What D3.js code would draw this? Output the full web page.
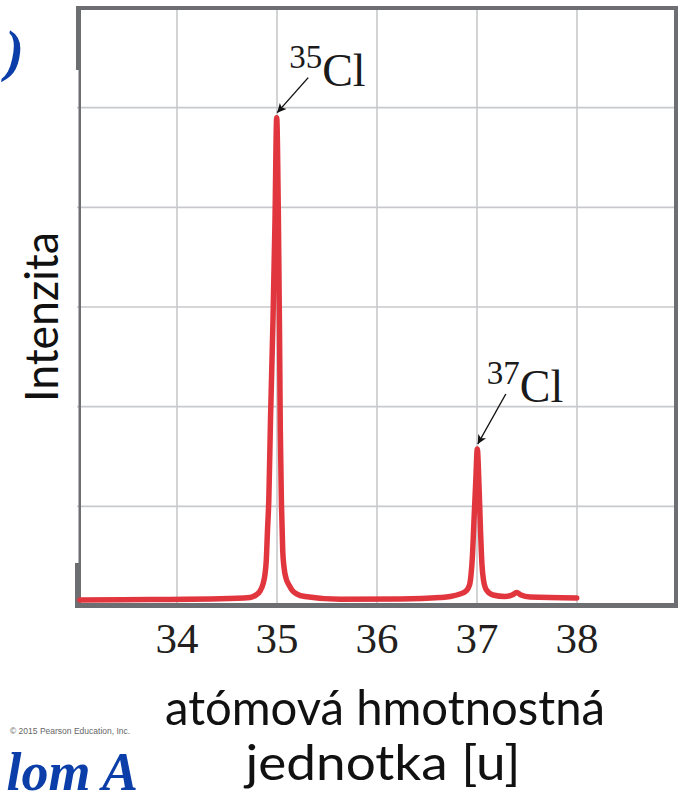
<!DOCTYPE html>
<html>
<head>
<meta charset="utf-8">
<script src="https://cdn.jsdelivr.net/npm/d3@7"></script>
<style>
  body { margin: 0; background: #fff; }
  svg { display: block; }
</style>
</head>
<body>
<svg width="683" height="794"></svg>
<script>
// spectrum of chlorine
const massValues = [33.03, 33.73, 34.43, 34.73, 34.79, 34.83, 34.86, 34.88, 34.893, 34.905, 34.918,
  34.935, 34.96, 34.98, 34.997, 35.013, 35.025, 35.033, 35.045, 35.057, 35.07, 35.09, 35.12, 35.15,
  35.20, 35.28, 35.63, 36.23, 36.63, 36.73, 36.83, 36.89, 36.925, 36.94, 36.955, 36.97, 36.988,
  37.003, 37.02, 37.035, 37.05, 37.065, 37.095, 37.16, 37.28, 37.35, 37.397, 37.44, 37.53, 37.997];
const intensityValues = [0.06, 0.065, 0.072, 0.085, 0.11, 0.15, 0.22, 0.32, 0.46, 0.76, 1.06,
  1.87, 2.87, 3.87, 4.90, 3.97, 2.77, 1.77, 1.01, 0.56, 0.39, 0.28, 0.21, 0.16,
  0.12, 0.095, 0.067, 0.07, 0.085, 0.095, 0.12, 0.15, 0.21, 0.31, 0.51, 0.86, 1.26,
  1.575, 1.21, 0.76, 0.41, 0.26, 0.16, 0.11, 0.095, 0.11, 0.135, 0.11, 0.09, 0.08];

const massTicks = [34, 35, 36, 37, 38];
const intensityGrid = [1, 2, 3, 4, 5];

const isotopeNumbers = ["35", "37"];
const isotopeMass = [34.997, 37.003];
const isotopePeak = [4.90, 1.575];

const svg = d3.select("svg");
const x = d3.scaleLinear().domain([33, 39]).range([77, 677]);
const y = d3.scaleLinear().domain([0, 6]).range([606, 8]);

const frameColor = "#6d6e71";
const gridColor = "#c8c9cc";
const red = "#e2363f";

// grid
svg.append("g").selectAll("line")
  .data(massTicks)
  .enter().append("line")
    .attr("x1", d => x(d)).attr("x2", d => x(d))
    .attr("y1", y(6)).attr("y2", y(0))
    .attr("stroke", gridColor).attr("stroke-width", 1.6);

svg.append("g").selectAll("line")
  .data(intensityGrid)
  .enter().append("line")
    .attr("x1", x(33)).attr("x2", x(39))
    .attr("y1", d => y(d)).attr("y2", d => y(d))
    .attr("stroke", gridColor).attr("stroke-width", 1.6);

// frame (the left edge is uneven in the original)
const frame = svg.append("g").attr("fill", frameColor);
frame.append("rect").attr("x", x(33) - 1).attr("y", y(6) - 2).attr("width", x(39) - x(33) + 2).attr("height", 4);
frame.append("rect").attr("x", x(39) - 3).attr("y", y(6) - 2).attr("width", 4).attr("height", y(0) - y(6) + 4);
frame.append("rect").attr("x", x(33) - 2).attr("y", y(0) - 3).attr("width", x(39) - x(33) + 3).attr("height", 5);
frame.append("rect").attr("x", x(33) - 1).attr("y", y(6) - 2).attr("width", 5).attr("height", 64);
frame.append("rect").attr("x", x(33) + 1.5).attr("y", y(6)).attr("width", 2.5).attr("height", y(0) - y(6));
frame.append("rect").attr("x", x(33) - 2).attr("y", y(0) - 43).attr("width", 4.5).attr("height", 45);

// spectrum line
const points = massValues.map((m, i) => [m, intensityValues[i]]);
const line = d3.line()
  .x(d => x(d[0]))
  .y(d => y(d[1]))
  .curve(d3.curveMonotoneX);

svg.append("path")
  .attr("d", line(points))
  .attr("fill", "none")
  .attr("stroke", red)
  .attr("stroke-width", 5.5)
  .attr("stroke-linecap", "round")
  .attr("stroke-linejoin", "round");

// arrows + labels
svg.append("defs").append("marker")
  .attr("id", "head")
  .attr("markerUnits", "userSpaceOnUse")
  .attr("viewBox", "0 0 10 10")
  .attr("refX", 10).attr("refY", 5)
  .attr("markerWidth", 11).attr("markerHeight", 9)
  .attr("orient", "auto")
  .append("path")
    .attr("d", "M0,0 L10,5 L0,10 L2.5,5 Z")
    .attr("fill", "#111");

const arrowVec = [[31, -35], [28, -50]];

isotopeNumbers.forEach((num, i) => {
  const tipX = x(isotopeMass[i]) + 0.5;
  const tipY = y(isotopePeak[i]) - 5;
  const sx = tipX + arrowVec[i][0];
  const sy = tipY + arrowVec[i][1];
  svg.append("line")
    .attr("x1", sx).attr("y1", sy)
    .attr("x2", tipX).attr("y2", tipY)
    .attr("stroke", "#111").attr("stroke-width", 1.4)
    .attr("marker-end", "url(#head)");
  const t = svg.append("text")
    .attr("x", sx - 19).attr("y", sy + 8)
    .attr("font-family", "'Liberation Serif', 'Times New Roman', serif")
    .attr("fill", "#1a1a1a");
  t.append("tspan").attr("font-size", 33).attr("dy", -18).text(num);
  t.append("tspan").attr("font-size", 46).attr("dy", 18).text("Cl");
});

// tick labels
svg.append("g").selectAll("text")
  .data(massTicks)
  .enter().append("text")
    .attr("x", d => x(d))
    .attr("y", 653)
    .attr("text-anchor", "middle")
    .attr("font-family", "'Liberation Serif', 'Times New Roman', serif")
    .attr("font-size", 43)
    .attr("fill", "#231f20")
    .text(d => d);

// axis titles
svg.append("text")
  .attr("transform", "translate(58,317) rotate(-90)")
  .attr("text-anchor", "middle")
  .attr("font-family", "Lato, sans-serif")
  .attr("font-size", 47)
  .attr("textLength", 170)
  .attr("lengthAdjust", "spacingAndGlyphs")
  .attr("fill", "#111")
  .text("Intenzita");

svg.append("text")
  .attr("x", 385).attr("y", 725)
  .attr("text-anchor", "middle")
  .attr("font-family", "Lato, sans-serif")
  .attr("font-size", 49)
  .attr("textLength", 440)
  .attr("lengthAdjust", "spacingAndGlyphs")
  .attr("fill", "#111")
  .text("atómová hmotnostná");

svg.append("text")
  .attr("x", 383).attr("y", 780)
  .attr("text-anchor", "middle")
  .attr("font-family", "Lato, sans-serif")
  .attr("font-size", 49)
  .attr("textLength", 275)
  .attr("lengthAdjust", "spacingAndGlyphs")
  .attr("fill", "#111")
  .text("jednotka [u]");

// leftovers from the slide
svg.append("text")
  .attr("x", 10).attr("y", 734)
  .attr("font-family", "'Liberation Sans', Arial, sans-serif")
  .attr("font-size", 8.5)
  .attr("fill", "#666")
  .text("© 2015 Pearson Education, Inc.");

svg.append("text")
  .attr("x", 138).attr("y", 790)
  .attr("text-anchor", "end")
  .attr("font-family", "'Liberation Serif', 'Times New Roman', serif")
  .attr("font-style", "italic").attr("font-weight", "bold")
  .attr("font-size", 54)
  .attr("fill", "#0b3ea8")
  .text("lom A");

svg.append("text")
  .attr("x", 24).attr("y", 70)
  .attr("text-anchor", "end")
  .attr("font-family", "'Liberation Serif', 'Times New Roman', serif")
  .attr("font-style", "italic").attr("font-weight", "bold")
  .attr("font-size", 56)
  .attr("fill", "#0b3ea8")
  .text(")");
</script>
</body>
</html>
